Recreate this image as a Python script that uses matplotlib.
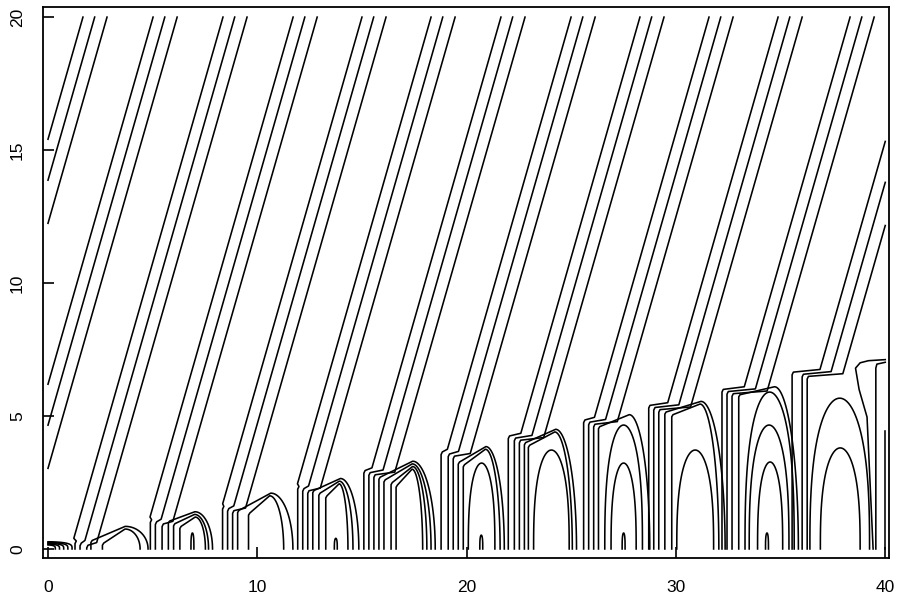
import numpy as np
import matplotlib.pyplot as plt

plt.rcParams['font.family'] = ['Liberation Sans', 'DejaVu Sans']

# ---- values (data units) ----
slope = 2.75                      # y per x of the diagonal contours
top_x = [1.67, 5.02, 8.36, 11.71, 15.00, 18.30, 21.64,
         24.99, 28.28, 31.58, 34.88, 38.32, 41.70]   # x of first line of each triple at y=20
offsets = [0.0, 0.56, 1.15]       # spacing inside a triple

# bottom clusters, fed by triples 3..13
drop_x = [[1.29, 1.53, 1.85], [4.89, 5.13, 5.45], [8.34, 8.58, 8.82],
          [11.93, 12.17, 12.41], [15.09, 15.33, 15.57], [18.78, 19.12, 19.36],
          [21.99, 22.28, 22.52], [25.59, 25.83, 26.07], [28.70, 28.94, 29.18],
          [32.20, 32.44, 32.68], [35.55, 36.03, 36.27]]
kink_y = [0.40, 1.20, 1.70, 2.45, 3.05, 3.75, 4.35, 4.95, 5.50, 6.10, 6.75]
shelf_lo = [0.32, 1.05, 1.45, 2.20, 2.70, 3.27, 4.00, 4.60, 5.15, 5.80, 0]
shelf_hi = [0.85, 1.40, 2.10, 2.65, 3.30, 3.85, 4.50, 5.05, 5.55, 6.10, 0]
shelf_legs = [[(2.05, 4.78), (2.60, 4.40)],
              [(5.75, 7.86), (6.00, 7.67), (6.30, 7.52)],
              [(9.06, 11.70), (9.58, 11.26)],
              [(12.65, 14.85), (12.94, 14.57), (13.27, 14.33)],
              [(15.81, 18.50), (16.05, 18.30), (16.39, 18.10), (16.63, 17.90)],
              [(19.60, 21.80), (19.84, 21.60)],
              [(22.76, 25.25), (22.95, 25.05)],
              [(26.30, 28.75)],
              [(29.47, 32.35), (29.80, 32.05)],
              [(33.00, 35.85)],
              []]
dome_left = [20.08, 23.20, 26.60, 26.90, 30.04, 33.30, 33.50, 33.90, 36.40, 36.90]
dome_right = [21.35, 24.90, 28.40, 28.10, 31.80, 35.65, 35.40, 35.10, 39.25, 38.80]
dome_peak = [3.23, 3.72, 4.66, 3.23, 3.72, 5.90, 4.66, 3.27, 5.67, 3.80]

spike_x = [6.90, 13.75, 20.70, 27.50, 34.35]
spike_h = [0.60, 0.40, 0.52, 0.60, 0.60]

blob_w = [1.15, 0.95, 0.75, 0.55, 0.35]
blob_h = [0.27, 0.24, 0.21, 0.18, 0.15]

edge_curve_x = [40.0, 39.2, 38.8, 38.58, 38.75, 39.13, 39.42]
edge_curve_y = [7.12, 7.08, 7.00, 6.80, 6.00, 4.96, 0.0]
edge_l_x = [40.0, 39.6, 39.55, 39.55]
edge_l_y = [7.02, 6.95, 6.80, 0.0]
edge_vert_x = [40.0, 40.0]
edge_vert_y = [4.45, 0.0]

LW = 1.15
fig = plt.figure(figsize=(9.01, 5.97), dpi=100)
ax = fig.add_axes([0.0477, 0.0653, 0.939, 0.923])


def line(xs, ys):
    ax.plot(xs, ys, color='black', lw=LW, solid_joinstyle='round')


def diag_start(T):
    # start of a diagonal at the top edge, or at the right edge of the domain
    if T > 40:
        return 40.0, 20 - slope * (T - 40)
    return T, 20.0


# triples 1 and 2 leave through the left edge
for T0 in top_x[:2]:
    for off in offsets:
        T = T0 + off
        line([0, T], [20 - slope * T, 20])

# triples 3.. bend into the bottom clusters
for k, T0 in enumerate(top_x[2:]):
    for i, off in enumerate(offsets):
        T = T0 + off
        hk = kink_y[k] - 0.08 * i
        K = T - (20 - hk) / slope
        x0, y0 = diag_start(T)
        v = drop_x[k][i]
        line([x0, K, v + 0.06, v, v], [y0, hk, hk - 0.1, hk - 0.2, 0])
    # flat topped arches under the shelf
    for j, (a, b) in enumerate(shelf_legs[k]):
        lo = shelf_lo[k] - 0.1 * j
        hi = shelf_hi[k] - 0.1 * j
        xpk = b - 0.4 * (b - a)
        th = np.linspace(0, np.pi / 2, 30)
        xs = np.concatenate([[a, a, a + 0.06], xpk + (b - xpk) * np.sin(th)])
        ys = np.concatenate([[0, lo - 0.08, lo], hi * np.cos(th)])
        line(xs, ys)

# rounded domes
t = np.linspace(0, np.pi, 80)
for a, b, p in zip(dome_left, dome_right, dome_peak):
    c, w = (a + b) / 2, (b - a) / 2
    line(c - w * np.cos(t), p * np.sin(t) ** 0.75)

# small spikes near the bottom
for sx, sh in zip(spike_x, spike_h):
    line(sx - 0.07 * np.cos(t), sh * np.sin(t) ** 0.6)

# nested blob at the origin
tq = np.linspace(np.pi / 2, np.pi, 30)
for w, h in zip(blob_w, blob_h):
    line(-w * np.cos(tq), h * np.sin(tq) ** 0.5)

# contours entering through the right edge
line(edge_curve_x, edge_curve_y)
line(edge_l_x, edge_l_y)
line(edge_vert_x, edge_vert_y)

ax.set_xlim(-0.24, 40.18)
ax.set_ylim(-0.34, 20.38)
ax.set_xticks([0, 10, 20, 30, 40])
ax.set_yticks([0, 5, 10, 15, 20])
ax.tick_params(direction='in', length=8, width=1.2, labelsize=12.5)
ax.tick_params(axis='x', pad=16)
ax.tick_params(axis='y', pad=13, labelrotation=90)
for lab in ax.get_yticklabels():
    lab.set_va('center')
for s in ax.spines.values():
    s.set_linewidth(1.3)

fig.savefig('out.png', dpi=100)
